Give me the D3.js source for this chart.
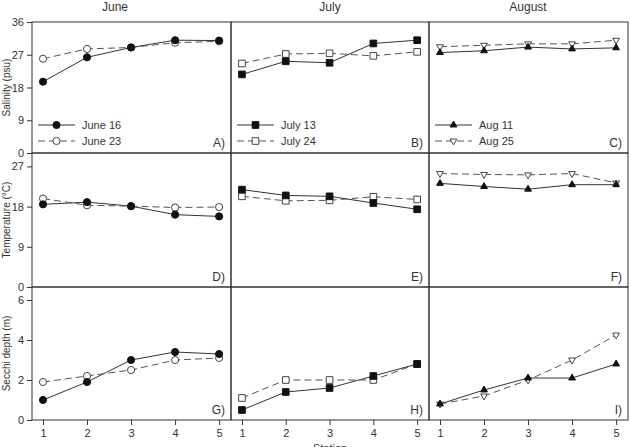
<!DOCTYPE html>
<html>
<head>
<meta charset="utf-8">
<script src="https://cdn.jsdelivr.net/npm/d3@7"></script>
<style>
  body { margin: 0; background: #fff; }
  text { font-family: "Liberation Sans", Arial, sans-serif; fill: #333; }
</style>
</head>
<body>
<div id="chart"></div>
<script>
// stations along x
var stations = [1, 2, 3, 4, 5];
var months = ["June", "July", "August"];
var dates = [["June 16", "June 23"], ["July 13", "July 24"], ["Aug 11", "Aug 25"]];
var panelLetters = [["A)", "B)", "C)"], ["D)", "E)", "F)"], ["G)", "H)", "I)"]];
var rowLabels = ["Salinity (psu)", "Temperature (\u00b0C)", "Secchi depth (m)"];
var rowTicks = [[0, 9, 18, 27, 36], [0, 9, 18, 27], [0, 2, 4, 6]];
var rowMax = [36, 30, 6.65];

// salinity
var salJun16 = [19.6, 26.3, 29.0, 31.0, 30.9];
var salJun23 = [25.9, 28.6, 29.0, 30.3, 30.7];
var salJul13 = [21.6, 25.2, 24.8, 30.1, 31.0];
var salJul24 = [24.6, 27.2, 27.4, 26.7, 27.8];
var salAug11 = [27.6, 28.1, 29.1, 28.6, 28.9];
var salAug25 = [29.2, 29.6, 30.0, 30.0, 31.0];
// temperature
var tmpJun16 = [18.5, 19.0, 18.1, 16.2, 15.8];
var tmpJun23 = [19.8, 18.3, 18.1, 17.8, 17.9];
var tmpJul13 = [21.8, 20.5, 20.3, 18.8, 17.4];
var tmpJul24 = [20.3, 19.3, 19.4, 20.2, 19.6];
var tmpAug11 = [23.2, 22.5, 21.9, 22.9, 22.9];
var tmpAug25 = [25.4, 25.2, 25.1, 25.4, 23.3];
// secchi depth
var secJun16 = [1.0, 1.9, 3.0, 3.4, 3.3];
var secJun23 = [1.9, 2.2, 2.5, 3.0, 3.1];
var secJul13 = [0.5, 1.4, 1.6, 2.2, 2.8];
var secJul24 = [1.1, 2.0, 2.0, 2.0, 2.8];
var secAug11 = [0.8, 1.5, 2.1, 2.1, 2.8];
var secAug25 = [0.8, 1.2, 2.0, 3.0, 4.25];

var grid = [
    [[salJun16, salJun23], [salJul13, salJul24], [salAug11, salAug25]],
    [[tmpJun16, tmpJun23], [tmpJul13, tmpJul24], [tmpAug11, tmpAug25]],
    [[secJun16, secJun23], [secJul13, secJul24], [secAug11, secAug25]]
];

var width = 631, height = 447;
var colEdges = [32, 231, 429, 628];
var rowEdges = [22, 153, 287, 420];

var svg = d3.select("#chart").append("svg")
    .attr("width", width)
    .attr("height", height);

var symbols = [
    [d3.symbolCircle, d3.symbolCircle],
    [d3.symbolSquare, d3.symbolSquare],
    [d3.symbolTriangle, d3.symbolTriangle]
];
var symSize = [40, 44, 20];

function drawMarker(g, m, k, x, y) {
    var rot = (m === 2 && k === 1) ? " rotate(180)" : "";
    g.append("path")
        .attr("d", d3.symbol().type(symbols[m][k]).size(symSize[m])())
        .attr("transform", "translate(" + x + "," + y + ")" + rot)
        .attr("fill", k === 0 ? "#111" : "#fff")
        .attr("stroke", k === 0 ? "#111" : "#444")
        .attr("stroke-width", 1);
}

for (var r = 0; r < 3; r++) {
    var y = d3.scaleLinear().domain([0, rowMax[r]]).range([rowEdges[r + 1], rowEdges[r]]);
    for (var c = 0; c < 3; c++) {
        var x = d3.scaleLinear().domain([0.75, 5.27]).range([colEdges[c], colEdges[c + 1]]);
        var g = svg.append("g");

        // frame
        g.append("rect")
            .attr("x", colEdges[c]).attr("y", rowEdges[r])
            .attr("width", colEdges[c + 1] - colEdges[c])
            .attr("height", rowEdges[r + 1] - rowEdges[r])
            .attr("fill", "none").attr("stroke", "#333").attr("stroke-width", 1);

        if (c === 0) {
            var ya = g.append("g")
                .attr("transform", "translate(" + colEdges[0] + ",0)")
                .call(d3.axisLeft(y).tickValues(rowTicks[r]).tickFormat(d3.format("d")).tickSize(5).tickPadding(3));
            ya.select(".domain").remove();
            ya.selectAll("line").attr("stroke", "#333");
            ya.selectAll("text").style("font-size", "11px").attr("fill", "#444");
        }
        if (r === 2) {
            var xa = g.append("g")
                .attr("transform", "translate(0," + rowEdges[3] + ")")
                .call(d3.axisBottom(x).tickValues(stations).tickFormat(d3.format("d")).tickSize(5).tickPadding(4));
            xa.select(".domain").remove();
            xa.selectAll("line").attr("stroke", "#333");
            xa.selectAll("text").style("font-size", "11px").attr("fill", "#444");
        }

        var line = d3.line()
            .x(function(d, i) { return x(stations[i]); })
            .y(function(d) { return y(d); });

        grid[r][c].forEach(function(vals, k) {
            g.append("path")
                .datum(vals)
                .attr("d", line)
                .attr("fill", "none")
                .attr("stroke", k === 0 ? "#333" : "#555")
                .attr("stroke-width", 1)
                .attr("stroke-dasharray", k === 0 ? null : "7,4");
        });
        // open markers first, filled ones on top
        grid[r][c].slice().reverse().forEach(function(vals, kk) {
            var k = 1 - kk;
            vals.forEach(function(v, i) {
                drawMarker(g, c, k, x(stations[i]), y(v));
            });
        });

        g.append("text")
            .attr("x", colEdges[c + 1] - 6)
            .attr("y", rowEdges[r + 1] - 6)
            .attr("text-anchor", "end")
            .style("font-size", "12px")
            .text(panelLetters[r][c]);

        // legend in top row
        if (r === 0) {
            dates[c].forEach(function(name, k) {
                var ly = [125, 141][k];
                var lx0 = colEdges[c] + 6, lx1 = colEdges[c] + 43;
                g.append("line")
                    .attr("x1", lx0).attr("x2", lx1).attr("y1", ly).attr("y2", ly)
                    .attr("stroke", k === 0 ? "#333" : "#555")
                    .attr("stroke-dasharray", k === 0 ? null : "7,4");
                drawMarker(g, c, k, (lx0 + lx1) / 2, ly);
                g.append("text")
                    .attr("x", lx1 + 7).attr("y", ly + 4)
                    .style("font-size", "11px")
                    .text(name);
            });
        }
    }

    svg.append("text")
        .attr("transform", "translate(10," + ((rowEdges[r] + rowEdges[r + 1]) / 2) + ") rotate(-90)")
        .attr("text-anchor", "middle")
        .style("font-size", "10px")
        .text(rowLabels[r]);
}

var titleX = [115, 330, 528];
months.forEach(function(m, i) {
    svg.append("text")
        .attr("x", titleX[i]).attr("y", 11)
        .attr("text-anchor", "middle")
        .style("font-size", "12px")
        .text(m);
});

svg.append("text")
    .attr("x", 330).attr("y", 452)
    .attr("text-anchor", "middle")
    .style("font-size", "11px")
    .text("Station");
</script>
</body>
</html>
